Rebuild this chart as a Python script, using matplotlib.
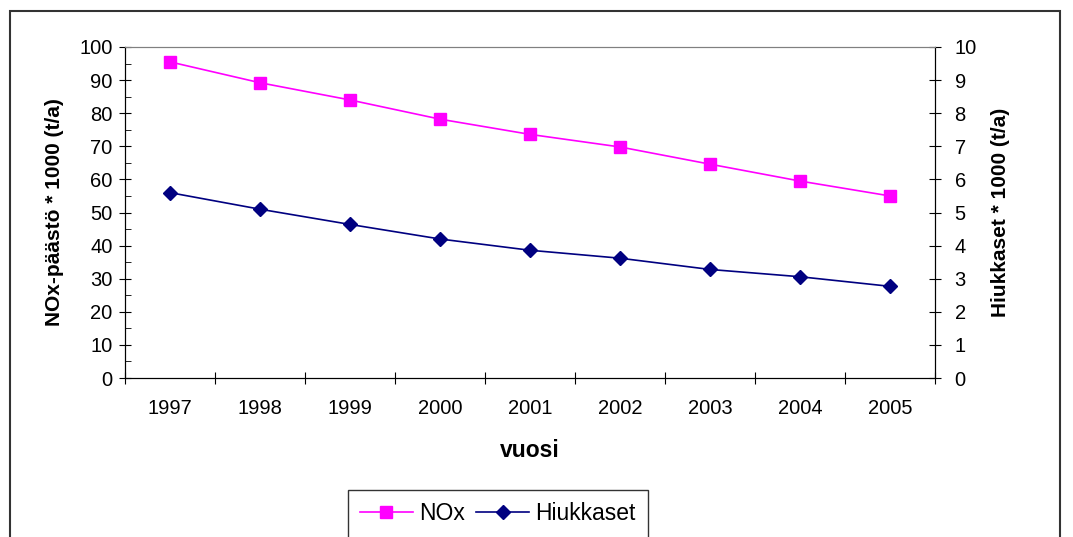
import matplotlib.pyplot as plt
from matplotlib.patches import Rectangle
from matplotlib.ticker import MultipleLocator

plt.rcParams['font.family'] = ['Liberation Sans', 'DejaVu Sans']

years = ['1997', '1998', '1999', '2000', '2001', '2002', '2003', '2004', '2005']
nox = [95.5, 89.2, 84.0, 78.2, 73.6, 69.8, 64.6, 59.5, 55.0]
hiukkaset = [5.6, 5.1, 4.64, 4.2, 3.86, 3.62, 3.28, 3.06, 2.77]

fig = plt.figure(figsize=(10.73, 5.37), dpi=100)
ax = fig.add_axes([0.1165, 0.296, 0.755, 0.6165])
ax2 = ax.twinx()

x = range(len(years))
l1, = ax.plot(x, nox, color='#FF00FF', lw=1.2, marker='s', markersize=9,
              label='NOx')
l2, = ax2.plot(x, hiukkaset, color='#000080', lw=1.2, marker='D', markersize=7,
               label='Hiukkaset')

# left axis
ax.set_ylim(0, 100)
ax.yaxis.set_major_locator(MultipleLocator(10))
ax.yaxis.set_minor_locator(MultipleLocator(5))
ax.tick_params(axis='y', which='major', direction='inout', length=8, labelsize=14.5, pad=5)
ax.tick_params(axis='y', which='minor', direction='in', length=4)

# right axis
ax2.set_ylim(0, 10)
ax2.yaxis.set_major_locator(MultipleLocator(1))
ax2.tick_params(axis='y', direction='inout', length=8, labelsize=14.5, pad=10)

# x categories, ticks between
ax.set_xlim(-0.5, len(years) - 0.5)
ax.set_xticks([i - 0.5 for i in range(len(years) + 1)])
ax.set_xticklabels([])
ax.set_xticks(list(x), minor=True)
ax.set_xticklabels(years, minor=True)
ax.tick_params(axis='x', which='major', direction='inout', length=8)
ax.tick_params(axis='x', which='minor', length=0, labelsize=14.5, pad=15)

for a in (ax, ax2):
    a.spines['top'].set_color('#808080')
    for s in ('left', 'right', 'bottom'):
        a.spines[s].set_color('black')

ax.set_xlabel('vuosi', fontsize=16.5, fontweight='bold', labelpad=15)
ax.set_ylabel('NOx-päästö * 1000 (t/a)', fontsize=15, fontweight='bold', labelpad=11)
ax2.set_ylabel('Hiukkaset * 1000 (t/a)', fontsize=15, fontweight='bold', labelpad=10)

leg = fig.legend(handles=[l1, l2], loc='lower center', ncol=2,
                 bbox_to_anchor=(0.464, -0.002), fontsize=16.5, frameon=True,
                 fancybox=False, edgecolor='black', handlelength=2.3,
                 columnspacing=0.5, handletextpad=0.27, borderpad=0.55,
                 borderaxespad=0.0)
leg.get_frame().set_linewidth(1.0)

# outer chart frame (bottom edge is cut off in the original)
fig.patches.append(Rectangle((0.0095, -0.1), 0.978, 1.08, transform=fig.transFigure,
                             fill=False, edgecolor='#333333', lw=1.5))

fig.savefig('out.png', dpi=100)
